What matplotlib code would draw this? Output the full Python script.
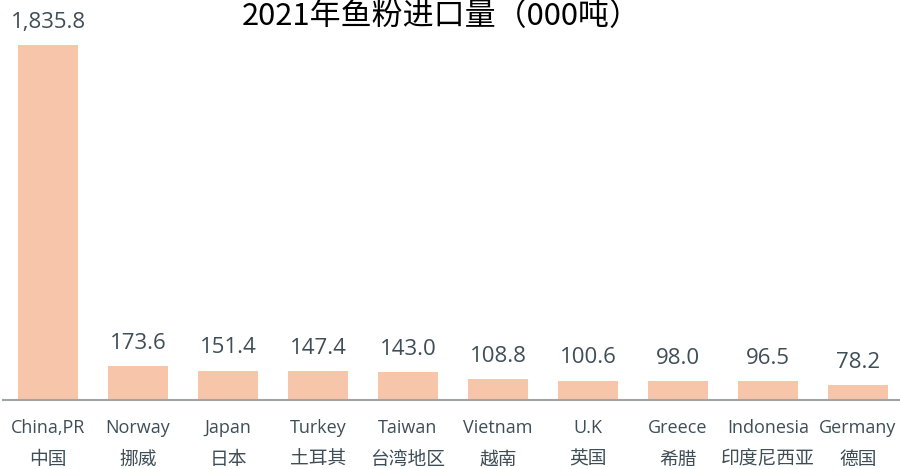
import matplotlib.pyplot as plt
import numpy as np

# 2021 fishmeal imports (000 t)
countries_en = ['China,PR', 'Norway', 'Japan', 'Turkey', 'Taiwan',
                'Vietnam', 'U.K', 'Greece', 'Indonesia', 'Germany']
countries_cn = ['中国', '挪威', '日本', '土耳其', '台湾地区',
                '越南', '英国', '希腊', '印度尼西亚', '德国']
imports = [1835.8, 173.6, 151.4, 147.4, 143.0, 108.8, 100.6, 98.0, 96.5, 78.2]

FONTS = ['Open Sans', 'Noto Sans CJK SC', 'DejaVu Sans']
plt.rcParams['font.family'] = FONTS

BAR_COLOR = '#F7C6AA'
TEXT_COLOR = '#3F4E56'
AXIS_COLOR = '#A0A4A6'

fig = plt.figure(figsize=(9, 4.69), dpi=100)
W, H = 900, 469
# axes: x from 3px to 903px, y baseline at 400px, top at 45px
ax = fig.add_axes([3 / W, (H - 400) / H, 900 / W, 355 / H])

x = np.arange(len(imports))
bars = ax.bar(x, imports, width=0.667, color=BAR_COLOR, edgecolor='none')

ax.set_xlim(-0.5, len(imports) - 0.5)
ax.set_ylim(0, max(imports))

for spine in ['top', 'right', 'left']:
    ax.spines[spine].set_visible(False)
ax.spines['bottom'].set_color(AXIS_COLOR)
ax.spines['bottom'].set_linewidth(1.5)
ax.set_yticks([])
ax.set_xticks([])

# value labels above bars
for xi, v in zip(x, imports):
    ax.annotate(f'{v:,.1f}', (xi, v), xytext=(0, 12.5), textcoords='offset points',
                ha='center', va='baseline', fontsize=16, color=TEXT_COLOR,
                annotation_clip=False)

# two-line category labels
trans = ax.get_xaxis_transform()
for xi, en, cn in zip(x, countries_en, countries_cn):
    ax.text(xi, -28 / 355, en, transform=trans, ha='center', va='center',
            fontsize=13, color=TEXT_COLOR)
    ax.text(xi, -59 / 355, cn, transform=trans, ha='center', va='center',
            fontsize=13.5, color=TEXT_COLOR, family=['Noto Sans CJK SC', 'DejaVu Sans'])

fig.text(441 / W, 1 - 25 / H, '2021年鱼粉进口量（000吨）', ha='center', va='baseline',
         fontsize=22.3, color='black', family=['Noto Sans CJK SC', 'DejaVu Sans'])

fig.savefig('out.png', dpi=100)
